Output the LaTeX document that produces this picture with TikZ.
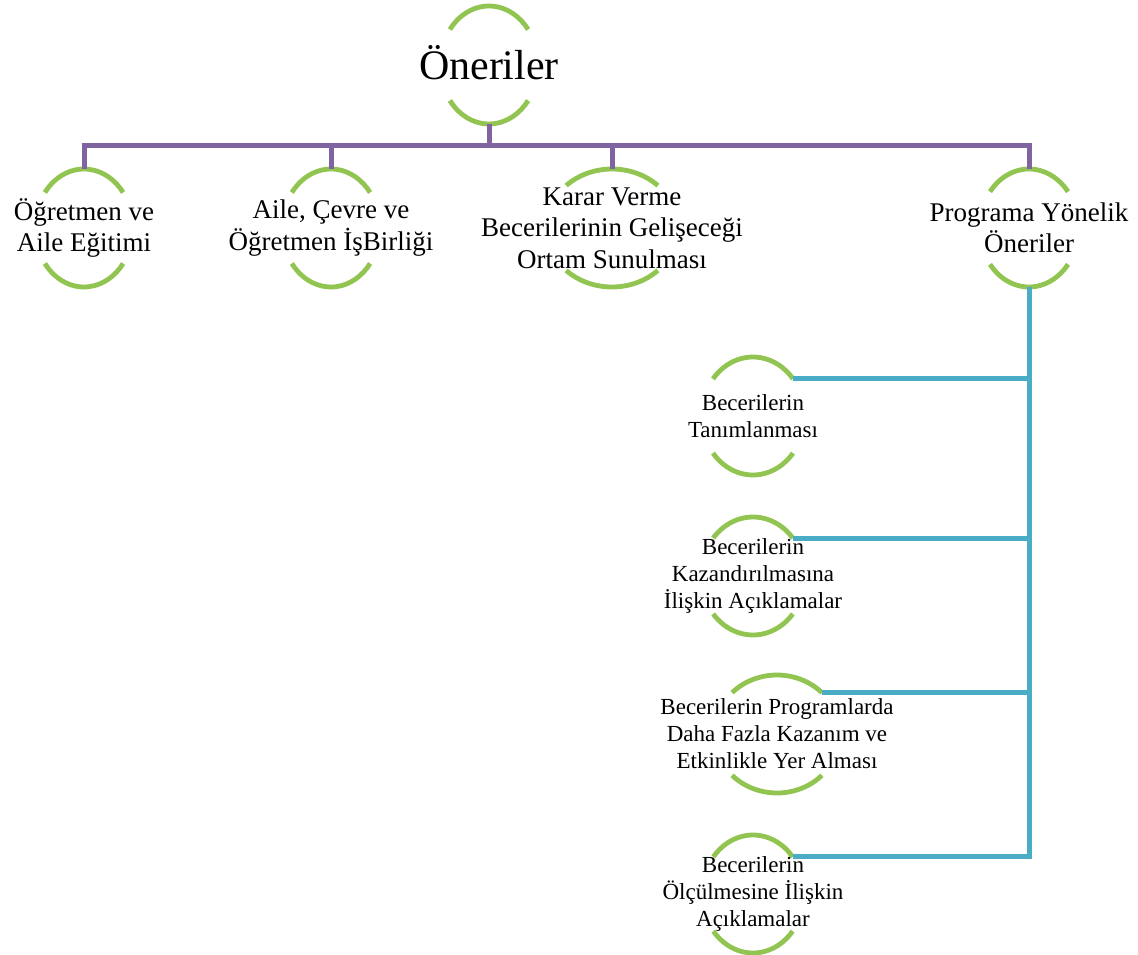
\documentclass[tikz,border=0pt]{standalone}
\usepackage{fontspec}
\setmainfont{Liberation Serif}
\usetikzlibrary{shapes.geometric,calc}
\definecolor{ringgreen}{RGB}{146,196,82}
\definecolor{linkpurple}{RGB}{128,100,162}
\definecolor{linkblue}{RGB}{75,172,198}
\begin{document}
\begin{tikzpicture}[x=1pt,y=-1pt,
  ring/.style={ellipse, draw=none, minimum height=118pt, minimum width=#1,
    inner sep=0pt, outer sep=0pt},
  arcline/.style={draw=ringgreen, line width=4.8pt},
  purpleline/.style={draw=linkpurple, line width=5pt},
  blueline/.style={draw=linkblue, line width=5pt},
  lvlzero/.style={font=\fontsize{42}{48}\selectfont, inner sep=0pt},
  lvlone/.style={font=\fontsize{27}{31.5}\selectfont, align=center, inner sep=0pt},
  lvltwo/.style={font=\fontsize{23}{27}\selectfont, align=center, inner sep=0pt}]
\useasboundingbox (0,0) rectangle (1138,955);

% ring frames (invisible ellipses carrying the anchors)
\node[ring=98pt]  (root) at (489,65)  {};
\node[ring=98pt]  (c1)   at (84,228)  {};
\node[ring=98pt]  (c2)   at (331,228) {};
\node[ring=132pt] (c3)   at (612,228) {};
\node[ring=99pt]  (c4)   at (1029,228) {};
\node[ring=103pt] (s1)   at (753,416) {};
\node[ring=104pt] (s2)   at (753,576) {};
\node[ring=126pt] (s3)   at (777,734) {};
\node[ring=102pt] (s4)   at (753,894) {};

% green upper and lower arcs of each ring
\foreach \n/\a/\t in {root/49/37, c1/49/37, c2/49/37, c3/66/46,
    c4/49.5/38, s1/51.5/39, s2/52/40, s3/63/44.5, s4/51/39} {
  \draw[arcline] ($(\n)+(180-\t:\a pt and 59pt)$)
    arc[start angle=180-\t, end angle=\t, x radius=\a pt, y radius=59pt]
    coordinate (\n-r);
  \draw[arcline] ($(\n)+(180+\t:\a pt and 59pt)$)
    arc[start angle=180+\t, end angle=360-\t, x radius=\a pt, y radius=59pt];
}

% purple tree links
\coordinate (bus) at (0,146);
\draw[purpleline] (root.south) -- (root.south |- bus);
\draw[purpleline] (c1.north) -- (c1.north |- bus) -- (c4.north |- bus) -- (c4.north);
\draw[purpleline] (c2.north) -- (c2.north |- bus);
\draw[purpleline] (c3.north) -- (c3.north |- bus);

% blue links under the programme branch
\draw[blueline] (c4.south) -- (c4.south |- s4-r) -- (s4-r);
\foreach \n in {s1,s2,s3}
  \draw[blueline] (\n-r) -- (\n-r -| c4.south);

% labels
\node[lvlzero, anchor=base] (root-t) at (489,80) {Öneriler};
\node[lvlone] (c1-t) at (c1) {Öğretmen ve\\Aile Eğitimi};
\node[lvlone] (c2-t) at (c2) {Aile, Çevre ve\\Öğretmen İşBirliği};
\node[lvlone] (c3-t) at (c3) {Karar Verme\\Becerilerinin Gelişeceği\\Ortam Sunulması};
\node[lvlone] (c4-t) at (c4) {Programa Yönelik\\Öneriler};
\node[lvltwo] (s1-t) at (s1) {Becerilerin\\Tanımlanması};
\node[lvltwo] (s2-t) at (s2) {Becerilerin\\Kazandırılmasına\\İlişkin Açıklamalar};
\node[lvltwo] (s3-t) at (s3) {Becerilerin Programlarda\\Daha Fazla Kazanım ve\\Etkinlikle Yer Alması};
\node[lvltwo] (s4-t) at (s4) {Becerilerin\\Ölçülmesine İlişkin\\Açıklamalar};
\end{tikzpicture}
\end{document}
